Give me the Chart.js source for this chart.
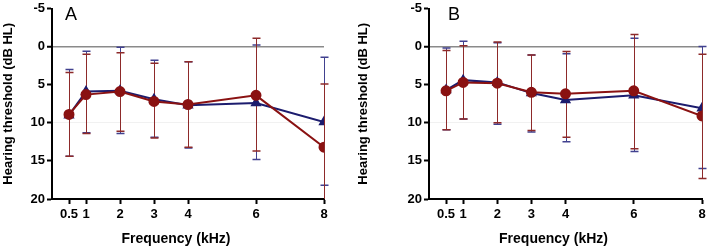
<!DOCTYPE html>
<html>
<head>
<meta charset="utf-8">
<script src="https://cdn.jsdelivr.net/npm/chart.js@4.4.1/dist/chart.umd.min.js"></script>
<style>
    html, body { margin: 0; padding: 0; background: #fff; }
    .wrap { position: relative; width: 709px; height: 249px; }
    .panel { position: absolute; top: 0; }
    #panelA { left: 0; }
    #panelB { left: 355px; }
</style>
</head>
<body>
<div class="wrap">
    <div class="panel" id="panelA"><canvas id="chartA" width="355" height="249"></canvas></div>
    <div class="panel" id="panelB"><canvas id="chartB" width="354" height="249"></canvas></div>
</div>
<script>
// frequencies (kHz) and axis ticks
const frequencies = [0.5, 1, 2, 3, 4, 6, 8]
const yTicks = [-5, 0, 5, 10, 15, 20]

// panel A
const aBlueMean = [9.0, 5.9, 5.8, 6.9, 7.7, 7.4, 9.9]
const aBlueTop = [3.0, 0.6, 0.1, 1.8, 2.0, -0.2, 1.4]
const aBlueBottom = [14.4, 11.3, 11.4, 11.9, 13.3, 14.8, 18.2]
const aRedMean = [8.9, 6.3, 5.9, 7.2, 7.6, 6.4, 13.2]
const aRedTop = [3.4, 1.0, 0.8, 2.2, 2.0, -1.1, 4.9]
const aRedBottom = [14.4, 11.4, 11.1, 12.0, 13.2, 13.7, 21.5]

// panel B
const bBlueMean = [5.7, 4.4, 4.7, 6.1, 7.0, 6.4, 8.1]
const bBlueTop = [0.2, -0.7, -0.5, 1.1, 0.95, -1.1, 0.0]
const bBlueBottom = [10.9, 9.5, 10.2, 11.2, 12.5, 13.75, 16.0]
const bRedMean = [5.8, 4.7, 4.8, 6.0, 6.2, 5.8, 9.1]
const bRedTop = [0.5, -0.1, -0.6, 1.1, 0.65, -1.6, 1.0]
const bRedBottom = [10.9, 9.5, 10.0, 11.0, 11.9, 13.4, 17.3]

const NAVY = "#1c1c6e"
const DARKRED = "#8a1212"
const FONT = "'Liberation Sans', Arial, sans-serif"

const errorBars = {
    id: "errorBars",
    beforeDatasetsDraw(chart) {
        const { ctx, chartArea, scales: { x, y } } = chart
        ctx.save()
        ctx.beginPath()
        ctx.rect(chartArea.left - 10, chartArea.top, chartArea.width + 20, chartArea.height)
        ctx.clip()
        // blue first so red sits on top
        for (let i = chart.data.datasets.length - 1; i >= 0; i--) {
            const ds = chart.data.datasets[i]
            ctx.strokeStyle = ds.errColor
            ds.data.forEach((p, j) => {
                const px = Math.round(x.getPixelForValue(p.x)) + 0.5
                const top = y.getPixelForValue(ds.errTop[j])
                const bottom = y.getPixelForValue(ds.errBottom[j])
                ctx.lineWidth = 1
                ctx.beginPath()
                ctx.moveTo(px, top)
                ctx.lineTo(px, bottom)
                ctx.stroke()
                ctx.lineWidth = 1.5
                ctx.beginPath()
                ctx.moveTo(px - 4, top)
                ctx.lineTo(px + 4, top)
                ctx.moveTo(px - 4, bottom)
                ctx.lineTo(px + 4, bottom)
                ctx.stroke()
            })
        }
        ctx.restore()
    },
    afterDraw(chart, args, opts) {
        const { ctx, chartArea } = chart
        ctx.save()
        ctx.fillStyle = "#000"
        ctx.textBaseline = "middle"
        ctx.font = `18px ${FONT}`
        ctx.textAlign = "left"
        ctx.fillText(opts.letter, chartArea.left + opts.letterDx, 15)
        ctx.font = `bold 14px ${FONT}`
        ctx.textAlign = "center"
        ctx.fillText("Frequency (kHz)", (chartArea.left + chartArea.right) / 2 - 12, 239)
        ctx.restore()
    },
}

const makeChart = (canvasId, letter, letterDx, yWidth, padRight, blue, red) => {
    const toPoints = (vals) => vals.map((v, i) => ({ x: frequencies[i], y: v }))
    return new Chart(document.getElementById(canvasId), {
        type: "line",
        data: {
            datasets: [
                {
                    data: toPoints(red.mean),
                    errTop: red.top,
                    errBottom: red.bottom,
                    errColor: "#8d2a2a",
                    borderColor: DARKRED,
                    backgroundColor: DARKRED,
                    borderWidth: 2,
                    pointStyle: "circle",
                    pointRadius: 4.5,
                    tension: 0,
                },
                {
                    data: toPoints(blue.mean),
                    errTop: blue.top,
                    errBottom: blue.bottom,
                    errColor: "#41418f",
                    borderColor: NAVY,
                    backgroundColor: NAVY,
                    borderWidth: 2,
                    pointStyle: "triangle",
                    pointRadius: 4.5,
                    tension: 0,
                },
            ],
        },
        plugins: [errorBars],
        options: {
            responsive: false,
            animation: false,
            layout: { padding: { top: 7, right: padRight, left: 0, bottom: 0 } },
            plugins: {
                legend: { display: false },
                tooltip: { enabled: false },
                errorBars: { letter, letterDx },
            },
            scales: {
                x: {
                    type: "linear",
                    min: 0,
                    max: 8,
                    afterBuildTicks: (scale) => {
                        scale.ticks = frequencies.map((v) => ({ value: v }))
                    },
                    afterFit: (scale) => {
                        scale.height = 50
                    },
                    grid: {
                        drawOnChartArea: false,
                        tickLength: 5,
                        tickColor: "#000",
                        tickWidth: 2,
                    },
                    border: { color: "#000", width: 2 },
                    ticks: {
                        autoSkip: false,
                        maxRotation: 0,
                        padding: 3,
                        color: "#000",
                        font: { family: FONT, size: 13, weight: "bold" },
                        callback: (value) => String(value),
                    },
                },
                y: {
                    reverse: true,
                    min: -5,
                    max: 20,
                    afterBuildTicks: (scale) => {
                        scale.ticks = yTicks.map((v) => ({ value: v }))
                    },
                    afterFit: (scale) => {
                        scale.width = yWidth
                    },
                    grid: {
                        color: (c) => (c.tick && c.tick.value === 0 ? "#8a8a8a" : c.tick && c.tick.value === 10 ? "#f1f1f1" : "rgba(0,0,0,0)"),
                        lineWidth: (c) => (c.tick && c.tick.value === 0 ? 1.5 : 1),
                        tickLength: 5,
                        tickColor: "#000",
                        tickWidth: 2,
                    },
                    border: { color: "#000", width: 2 },
                    ticks: {
                        padding: 2,
                        color: "#000",
                        font: { family: FONT, size: 13, weight: "bold", lineHeight: 1 },
                        callback: (value) => String(value),
                    },
                    title: {
                        display: true,
                        text: "Hearing threshold (dB HL)",
                        color: "#000",
                        padding: { top: 1, bottom: 0 },
                        font: { family: FONT, size: 13, weight: "bold" },
                    },
                },
            },
        },
    })
}

makeChart("chartA", "A", 13, 52, 31,
    { mean: aBlueMean, top: aBlueTop, bottom: aBlueBottom },
    { mean: aRedMean, top: aRedTop, bottom: aRedBottom })

makeChart("chartB", "B", 19, 74, 7,
    { mean: bBlueMean, top: bBlueTop, bottom: bBlueBottom },
    { mean: bRedMean, top: bRedTop, bottom: bRedBottom })
</script>
</body>
</html>
